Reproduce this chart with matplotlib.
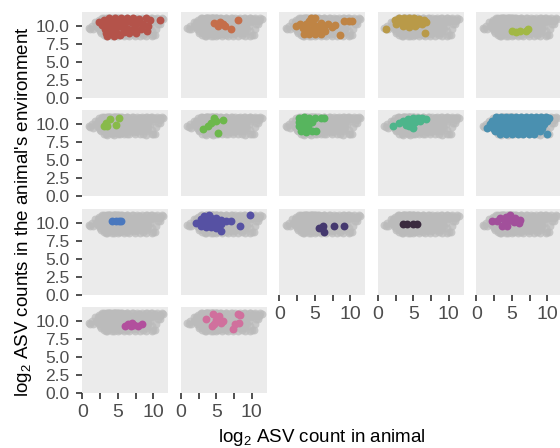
import matplotlib
matplotlib.use("Agg")
import matplotlib.pyplot as plt

plt.rcParams["font.family"] = "Liberation Sans"
plt.rcParams["mathtext.fontset"] = "custom"
plt.rcParams["mathtext.rm"] = "Liberation Sans"
plt.rcParams["mathtext.it"] = "Liberation Sans:italic"

# points per facet (x = log2 count in animal, y = log2 count in environment)
facet01 = [(2.3, 10.5), (3.0, 10.8), (3.8, 11.0), (4.6, 11.0), (5.5, 11.0), (6.3, 11.0),
           (7.2, 11.0), (8.0, 10.9), (8.9, 11.0), (9.5, 10.8), (11.0, 10.8),
           (2.8, 10.1), (3.5, 10.4), (4.3, 10.4), (5.1, 10.5), (6.0, 10.4), (6.8, 10.5),
           (7.6, 10.3), (8.6, 10.2), (9.2, 9.9),
           (3.2, 9.6), (4.0, 9.8), (4.8, 9.7), (5.6, 9.8), (6.4, 9.6), (7.3, 9.7),
           (8.2, 9.5), (9.1, 9.3),
           (3.4, 9.0), (4.2, 9.1), (5.0, 8.9), (5.8, 9.1), (6.6, 9.0), (7.6, 9.0),
           (3.5, 8.5), (4.5, 8.5), (5.3, 8.7)]
facet02 = [(4.7, 10.4), (5.5, 10.5), (5.9, 10.2), (6.2, 9.9), (7.1, 9.5), (8.1, 10.8), (5.3, 10.0)]
facet03 = [(2.4, 10.0), (2.9, 10.3), (3.3, 9.7), (3.8, 10.2), (4.2, 10.6), (4.4, 11.0),
           (5.0, 11.0), (4.7, 10.3), (5.3, 10.0), (5.8, 10.4), (6.3, 10.0), (6.8, 10.3),
           (7.4, 9.8), (7.8, 10.1), (4.0, 9.5), (4.8, 9.4), (5.6, 9.6), (6.4, 9.3),
           (3.5, 8.8), (4.2, 8.8), (5.0, 8.8), (5.9, 8.9), (8.6, 8.7), (9.1, 10.7),
           (10.3, 10.7), (9.8, 10.7)]
facet04 = [(1.1, 9.6), (2.4, 10.8), (3.0, 11.0), (3.7, 11.0), (4.4, 11.0), (5.1, 11.0),
           (5.8, 10.9), (6.5, 10.8), (2.6, 10.3), (3.3, 10.5), (4.0, 10.4), (4.8, 10.5),
           (5.5, 10.3), (6.2, 10.2), (3.6, 9.9), (4.4, 9.8), (5.2, 9.9), (6.6, 9.0), (6.8, 10.5)]
facet05 = [(5.0, 9.2), (5.6, 9.1), (6.2, 9.3), (7.3, 9.5), (7.0, 9.3)]
facet06 = [(3.0, 9.8), (3.5, 9.7), (3.9, 10.7), (5.1, 10.8), (4.7, 9.9), (3.4, 10.1)]
facet07 = [(3.1, 9.4), (3.8, 9.8), (4.3, 10.1), (4.7, 10.8), (5.0, 10.4), (5.9, 10.6), (5.3, 8.8)]
facet08 = [(2.8, 10.9), (3.5, 11.0), (4.2, 10.9), (5.0, 10.9), (5.8, 10.9), (6.3, 10.8),
           (2.7, 10.3), (3.3, 10.4), (4.0, 10.2), (4.6, 10.3), (2.8, 9.7), (3.4, 9.6),
           (4.0, 9.7), (3.1, 9.0), (3.8, 8.9), (4.6, 9.1), (5.1, 9.0)]
facet09 = [(2.1, 9.8), (3.0, 10.2), (3.6, 10.4), (4.2, 10.7), (4.9, 10.9), (5.6, 10.9),
           (6.2, 10.8), (6.8, 10.7), (3.9, 9.9), (4.6, 10.2), (5.3, 10.3), (6.0, 10.4),
           (4.9, 9.5), (4.4, 9.7)]
facet10 = [(2.8, 11.0), (3.5, 11.0), (4.2, 11.0), (4.9, 11.0), (5.6, 11.0), (6.3, 11.0),
           (7.0, 11.0), (7.7, 11.0), (8.4, 11.0), (9.1, 11.0), (9.8, 11.0), (10.3, 10.9),
           (2.2, 10.5), (2.9, 10.5), (3.6, 10.5), (4.3, 10.5), (5.0, 10.5), (5.7, 10.5),
           (6.4, 10.5), (7.1, 10.5), (7.8, 10.5), (8.5, 10.5), (9.2, 10.5), (9.9, 10.5),
           (1.9, 10.0), (2.6, 10.0), (3.3, 10.0), (4.0, 10.0), (4.7, 10.0), (5.4, 10.0),
           (6.1, 10.0), (6.8, 10.0), (7.5, 10.0), (8.2, 10.0), (8.9, 10.0), (9.6, 10.0),
           (1.5, 9.5), (2.3, 9.5), (3.0, 9.5), (3.7, 9.5), (4.4, 9.5), (5.1, 9.5),
           (5.8, 9.5), (6.5, 9.5), (7.2, 9.5), (7.9, 9.5), (8.6, 9.5), (9.3, 9.5),
           (2.6, 9.0), (3.3, 9.0), (4.0, 9.0), (4.7, 9.0), (5.4, 9.0), (6.1, 9.0),
           (6.8, 9.0), (7.5, 9.0), (8.2, 9.0), (8.9, 9.0),
           (3.4, 8.6), (4.2, 8.6), (5.0, 8.6), (5.8, 8.6), (6.6, 8.6), (7.4, 8.6),
           (8.1, 8.6), (10.0, 8.7)]
facet11 = [(4.2, 10.2), (4.7, 10.2), (5.2, 10.2), (5.5, 10.2)]
facet12 = [(2.2, 10.0), (2.8, 10.5), (2.9, 9.6), (3.5, 10.7), (3.5, 10.0), (3.6, 9.4),
           (4.2, 10.7), (4.2, 10.1), (4.3, 9.4), (4.9, 10.6), (4.9, 9.9), (5.0, 9.3),
           (5.6, 10.4), (5.6, 9.8), (6.3, 10.3), (7.0, 10.2), (5.7, 8.9), (8.3, 9.5),
           (9.7, 11.0), (3.2, 10.9), (3.9, 11.0)]
facet13 = [(5.6, 9.3), (6.1, 9.6), (6.3, 8.7), (6.0, 9.2), (7.7, 9.5), (9.1, 9.5)]
facet14 = [(3.6, 9.85), (4.1, 9.85), (5.0, 9.85), (5.5, 9.85)]
facet15 = [(2.2, 10.2), (2.9, 10.3), (3.4, 10.6), (3.6, 9.6), (4.0, 10.0), (4.2, 10.8),
           (4.7, 11.0), (4.8, 10.4), (5.3, 10.1), (5.5, 10.7), (6.2, 10.4), (6.0, 10.0), (4.3, 9.6)]
facet16 = [(6.0, 9.3), (6.5, 9.5), (7.0, 9.7), (7.3, 9.4), (7.8, 9.3), (8.4, 9.6), (6.8, 9.3)]
facet17 = [(3.5, 10.2), (4.5, 10.9), (5.4, 10.6), (5.6, 9.7), (4.7, 9.6), (5.0, 10.1),
           (4.4, 9.3), (8.0, 10.9), (8.4, 10.8), (8.2, 9.7), (7.6, 9.6), (7.3, 8.9), (5.9, 10.0)]
# ASVs that appear only in the grey background
other_pts = [(0.9, 9.7), (1.3, 10.0), (1.8, 10.5), (11.4, 10.9), (11.2, 11.0), (10.6, 10.2),
             (10.3, 8.7), (10.8, 10.8), (9.8, 8.6), (9.0, 8.5), (3.0, 8.7), (2.5, 9.2),
             (10.5, 11.0), (11.0, 10.6), (10.4, 9.6), (9.8, 9.2), (10.9, 10.2)]

facets = [facet01, facet02, facet03, facet04, facet05, facet06, facet07, facet08, facet09,
          facet10, facet11, facet12, facet13, facet14, facet15, facet16, facet17]
colors = ["#B4534A", "#C56E4A", "#BF8444", "#B99A48", "#A2B845", "#88BA4A", "#6DB84C",
          "#57B55E", "#4DB58B", "#4A90B0", "#4A78BE", "#5651A3", "#45396F", "#3B2B3F",
          "#A24F9B", "#B24F9D", "#D0709D"]

x_ticks = [0, 2.5, 5, 7.5, 10]
x_ticklabels = ["0", "", "5", "", "10"]
y_ticks = [0, 2.5, 5, 7.5, 10]
y_ticklabels = ["0.0", "2.5", "5.0", "7.5", "10.0"]

all_pts = [p for f in facets for p in f] + other_pts
gx = [p[0] for p in all_pts]
gy = [p[1] for p in all_pts]

W, H = 560, 448
fig = plt.figure(figsize=(W / 100, H / 100), dpi=100)
col_x = [82, 180.5, 279, 377.5, 476]
row_top = [12, 110.5, 209, 307]
pw, ph = 86, 86

for i, (pts, col) in enumerate(zip(facets, colors)):
    r, c = divmod(i, 5)
    ax = fig.add_axes([col_x[c] / W, 1 - (row_top[r] + ph) / H, pw / W, ph / H])
    ax.set_facecolor("#EBEBEB")
    for s in ax.spines.values():
        s.set_visible(False)
    ax.scatter(gx, gy, s=32, color="#BBBBBB", alpha=0.75, linewidths=0)
    ax.scatter([p[0] for p in pts], [p[1] for p in pts], s=32, color=col, linewidths=0)
    ax.set_xlim(-0.05, 12.07)
    ax.set_ylim(-0.04, 11.9)
    ax.tick_params(colors="#333333", length=4, width=1.2, labelcolor="#4D4D4D")
    if c == 0:
        ax.set_yticks(y_ticks)
        ax.set_yticklabels(y_ticklabels, fontsize=12.5)
        ax.tick_params(axis="y", pad=5)
    else:
        ax.set_yticks([])
    if i + 5 >= len(facets):
        ax.set_xticks(x_ticks)
        ax.set_xticklabels(x_ticklabels, fontsize=14)
        ax.tick_params(axis="x", pad=4)
    else:
        ax.set_xticks([])

fig.text(322 / W, 1 - 437 / H, r"log$_2$ ASV count in animal", ha="center", va="center", fontsize=13.5)
fig.text(24 / W, 1 - 212 / H, r"log$_2$ ASV counts in the animal's environment",
         ha="center", va="center", rotation=90, fontsize=13.5)

fig.savefig("out.png", dpi=100)
